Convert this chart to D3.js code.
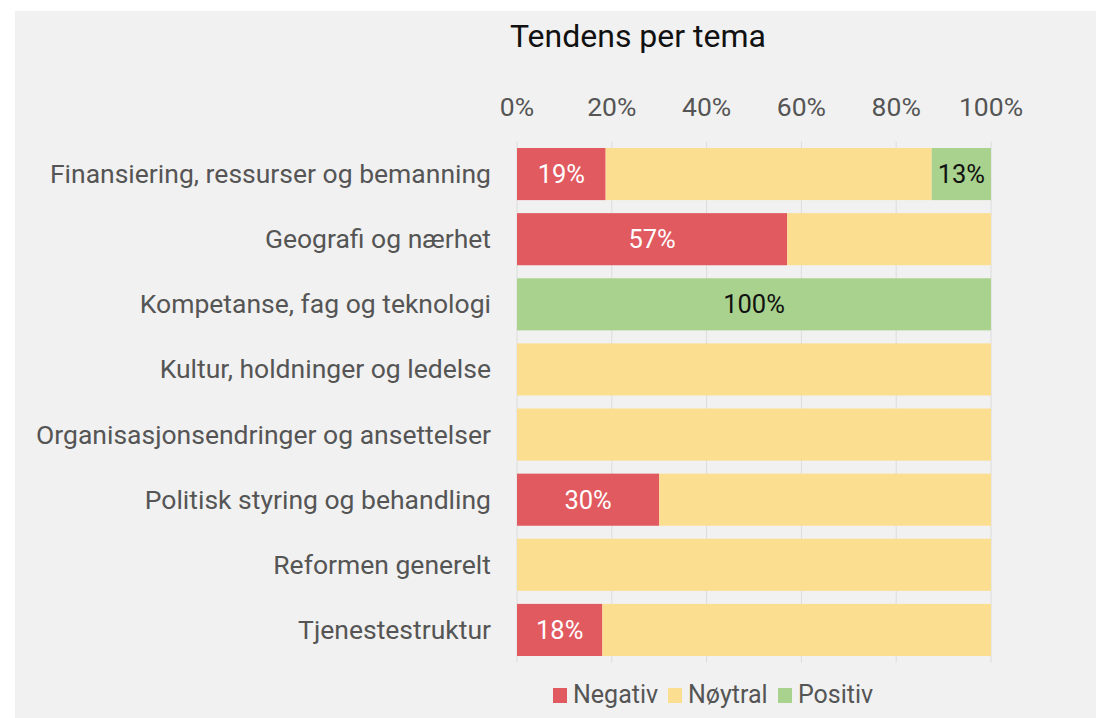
<!DOCTYPE html>
<html>
<head>
<meta charset="utf-8">
<script src="https://cdn.jsdelivr.net/npm/d3@7"></script>
<style>
  body { margin: 0; background: #fff; font-family: Roboto, "Noto Sans", sans-serif; }
</style>
</head>
<body>
<div id="chart"></div>
<script>
const categories = [
  "Finansiering, ressurser og bemanning",
  "Geografi og nærhet",
  "Kompetanse, fag og teknologi",
  "Kultur, holdninger og ledelse",
  "Organisasjonsendringer og ansettelser",
  "Politisk styring og behandling",
  "Reformen generelt",
  "Tjenestestruktur"
]
const negativ = [0.187, 0.57, 0, 0, 0, 0.30, 0, 0.18]
const noytral = [0.688, 0.43, 0, 1, 1, 0.70, 1, 0.82]
const positiv = [0.125, 0, 1, 0, 0, 0, 0, 0]
const seriesNames = ["Negativ", "Nøytral", "Positiv"]
const seriesColors = ["#e15a60", "#fbde8f", "#a8d28e"]
const labelColors = ["#fff", null, "#111"]
const tickValues = [0, 0.2, 0.4, 0.6, 0.8, 1]

const width = 1096, height = 718
const margin = {left: 517, right: 105, top: 141.5, bottom: 55.5}

const svg = d3.select('#chart').append('svg')
  .attr('width', width)
  .attr('height', height)

svg.append('rect')
  .attr('x', 15).attr('y', 11)
  .attr('width', width - 15).attr('height', height - 11)
  .attr('fill', '#f1f1f1')

const x = d3.scaleLinear().domain([0, 1]).range([margin.left, width - margin.right])
const y = d3.scaleBand().domain(categories).range([margin.top, height - margin.bottom])
  .paddingInner(0.2).paddingOuter(0.1)

// title
svg.append('text')
  .attr('x', 638).attr('y', 47)
  .attr('text-anchor', 'middle')
  .attr('font-size', 32)
  .attr('fill', '#111')
  .text('Tendens per tema')

// grid + ticks
svg.append('g')
  .selectAll('line')
  .data(tickValues)
  .join('line')
  .attr('x1', d => x(d)).attr('x2', d => x(d))
  .attr('y1', margin.top).attr('y2', height - margin.bottom)
  .attr('stroke', '#dcdcdc')
  .attr('stroke-width', 1)

svg.append('g')
  .selectAll('text')
  .data(tickValues)
  .join('text')
  .attr('x', d => x(d)).attr('y', 116)
  .attr('text-anchor', 'middle')
  .attr('font-size', 26.5)
  .attr('fill', '#555')
  .text(d => d3.format('.0%')(d))

// category labels
svg.append('g')
  .selectAll('text')
  .data(categories)
  .join('text')
  .attr('x', 491)
  .attr('y', d => y(d) + y.bandwidth() / 2)
  .attr('dy', '0.34em')
  .attr('text-anchor', 'end')
  .attr('font-size', 26.5)
  .attr('fill', '#555')
  .text(d => d)

// stacked bars
const rows = categories.map((c, i) => ({cat: c, Negativ: negativ[i], 'Nøytral': noytral[i], Positiv: positiv[i]}))
const stacked = d3.stack().keys(seriesNames)(rows)

const layers = svg.append('g')
  .selectAll('g')
  .data(stacked)
  .join('g')
  .attr('fill', (d, i) => seriesColors[i])

layers.selectAll('rect')
  .data(d => d)
  .join('rect')
  .attr('x', d => x(d[0]))
  .attr('y', d => y(d.data.cat))
  .attr('width', d => x(d[1]) - x(d[0]))
  .attr('height', y.bandwidth())

layers.each(function(layer, i) {
  if (!labelColors[i]) return
  d3.select(this).selectAll('text')
    .data(layer.filter(d => d[1] - d[0] > 0))
    .join('text')
    .attr('x', d => (x(d[0]) + x(d[1])) / 2)
    .attr('y', d => y(d.data.cat) + y.bandwidth() / 2)
    .attr('dy', '0.35em')
    .attr('text-anchor', 'middle')
    .attr('font-size', 25.5)
    .attr('fill', labelColors[i])
    .text(d => Math.round((d[1] - d[0]) * 100) + '%')
})

// legend
const legendX = [553, 668, 778]
const legend = svg.append('g')
  .selectAll('g')
  .data(seriesNames)
  .join('g')
  .attr('transform', (d, i) => `translate(${legendX[i]}, 688)`)
legend.append('rect')
  .attr('width', 14).attr('height', 15)
  .attr('fill', (d, i) => seriesColors[i])
legend.append('text')
  .attr('x', 20).attr('y', 14.5)
  .attr('font-size', 25)
  .attr('fill', '#555')
  .text(d => d)
</script>
</body>
</html>
